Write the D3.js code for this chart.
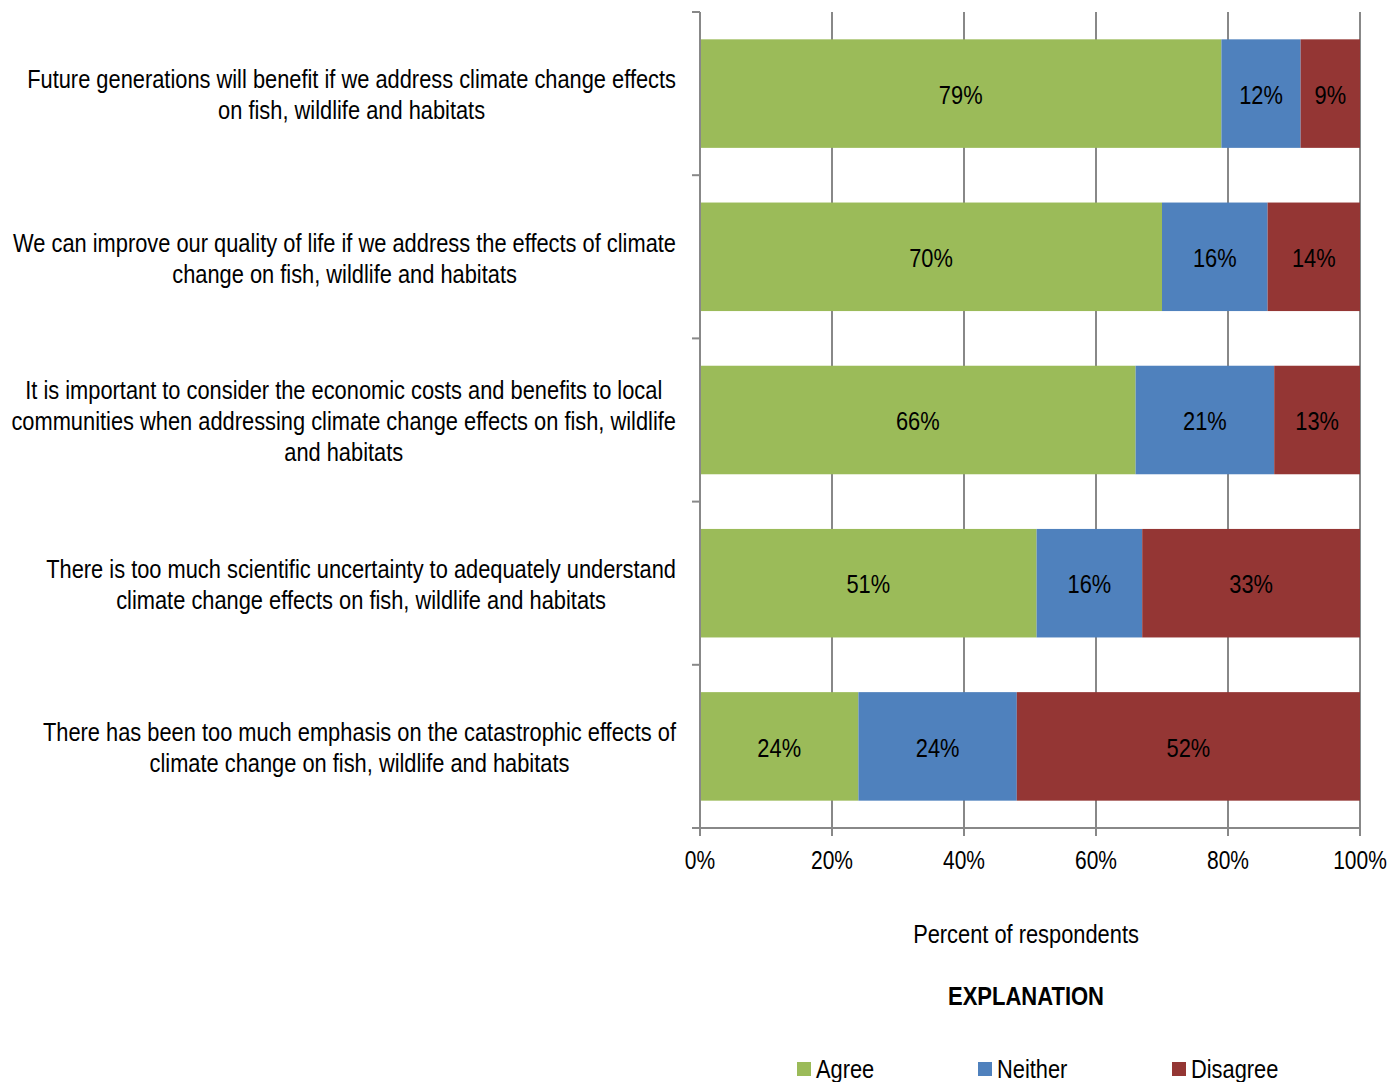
<!DOCTYPE html>
<html>
<head>
<meta charset="utf-8">
<script src="https://cdn.jsdelivr.net/npm/d3@7"></script>
<style>
  html, body { margin: 0; padding: 0; background: #fff; }
  svg { display: block; }
  text { font-family: "Liberation Sans", Arial, sans-serif; fill: #000; }
</style>
</head>
<body>
<svg id="chart" width="1392" height="1082"></svg>
<script>
// Survey statements, each pre-wrapped into display lines
const statements = [
  ["Future generations will benefit if we address climate change effects", "on fish, wildlife and habitats"],
  ["We can improve our quality of life if we address the effects of climate", "change on fish, wildlife and habitats"],
  ["It is important to consider the economic costs and benefits to local", "communities when addressing climate change effects on fish, wildlife", "and habitats"],
  ["There is too much scientific uncertainty to adequately understand", "climate change effects on fish, wildlife and habitats"],
  ["There has been too much emphasis on the catastrophic effects of", "climate change on fish, wildlife and habitats"]
];
const seriesNames = ["Agree", "Neither", "Disagree"];
const agree    = [79, 70, 66, 51, 24];
const neither  = [12, 16, 21, 16, 24];
const disagree = [9, 14, 13, 33, 52];
const xTicks = [0, 20, 40, 60, 80, 100];
const colors = ["#9BBB59", "#4F81BD", "#943634"];

const svg = d3.select("#chart");
const plotLeft = 700, plotRight = 1360, plotTop = 12, plotBottom = 828;
const FONT = 26, NARROW = 0.84;   // condensed lettering via horizontal squeeze

const x = d3.scaleLinear().domain([0, 100]).range([plotLeft, plotRight]);
const y = d3.scaleBand().domain(d3.range(statements.length)).range([plotTop, plotBottom]).paddingInner(0.335).paddingOuter(0.1675);

const rows = statements.map((s, i) => ({ i, Agree: agree[i], Neither: neither[i], Disagree: disagree[i] }));
const stacked = d3.stack().keys(seriesNames)(rows);

const axisColor = "#888888";

// place a condensed text at (px, py)
function narrowText(parent, px, py, str, anchor = "middle", baseline = "auto", size = FONT, squeeze = NARROW) {
  const gg = parent.append("g").attr("transform", `translate(${px},${py}) scale(${squeeze},1)`);
  return gg.append("text").attr("text-anchor", anchor).attr("dominant-baseline", baseline)
    .attr("font-size", size).text(str);
}

// vertical gridlines (extend below the baseline as tick marks)
svg.append("g").selectAll("line").data(xTicks.slice(1)).join("line")
  .attr("x1", d => x(d)).attr("x2", d => x(d))
  .attr("y1", plotTop).attr("y2", plotBottom + 8)
  .attr("stroke", axisColor).attr("stroke-width", 2);

// bars with centred value labels
const g = svg.append("g");
stacked.forEach((layer, k) => {
  g.append("g").selectAll("rect").data(layer).join("rect")
    .attr("x", d => x(d[0]))
    .attr("width", d => x(d[1]) - x(d[0]))
    .attr("y", d => y(d.data.i))
    .attr("height", y.bandwidth())
    .attr("fill", colors[k]);
  const lbl = g.append("g");
  layer.forEach(d => narrowText(lbl, (x(d[0]) + x(d[1])) / 2, y(d.data.i) + y.bandwidth() / 2 + 1,
    (d[1] - d[0]) + "%", "middle", "central"));
});

// category axis (left)
svg.append("line").attr("x1", plotLeft).attr("x2", plotLeft).attr("y1", plotTop).attr("y2", plotBottom + 8)
  .attr("stroke", axisColor).attr("stroke-width", 2);
const catTicks = d3.range(statements.length + 1).map(i => plotTop + i * y.step());
svg.append("g").selectAll("line").data(catTicks).join("line")
  .attr("x1", plotLeft - 8).attr("x2", plotLeft).attr("y1", d => d).attr("y2", d => d)
  .attr("stroke", axisColor).attr("stroke-width", 2);

// value axis (bottom)
svg.append("line").attr("x1", plotLeft - 8).attr("x2", plotRight).attr("y1", plotBottom).attr("y2", plotBottom)
  .attr("stroke", axisColor).attr("stroke-width", 2);
const tickG = svg.append("g");
xTicks.forEach(d => narrowText(tickG, x(d), 869, d + "%", "middle", "auto", 25));

// statement labels: lines centred within a block whose right edge sits at 676
const labelRight = 676, lineH = 31;
statements.forEach((lines, i) => {
  const cy = y(i) + y.bandwidth() / 2;
  const block = svg.append("g");
  const ys = lines.map((ln, j) => cy + (j - (lines.length - 1) / 2) * lineH + 1);
  const texts = lines.map((ln, j) => narrowText(block, 0, ys[j], ln, "middle", "central"));
  const maxW = d3.max(texts, t => t.node().getComputedTextLength()) * NARROW;
  texts.forEach((t, j) => d3.select(t.node().parentNode)
    .attr("transform", `translate(${labelRight - maxW / 2},${ys[j]}) scale(${NARROW},1)`));
});

// axis title
narrowText(svg, 1026, 943, "Percent of respondents");

// legend
narrowText(svg, 1026, 1005, "EXPLANATION", "middle", "auto", 25, 0.88).attr("font-weight", "bold");
const legendX = [797, 978, 1172];
seriesNames.forEach((name, i) => {
  const lg = svg.append("g").attr("transform", `translate(${legendX[i]},1062)`);
  lg.append("rect").attr("width", 14).attr("height", 14).attr("fill", colors[i]);
  narrowText(lg, 19, 16, name, "start");
});
</script>
</body>
</html>
